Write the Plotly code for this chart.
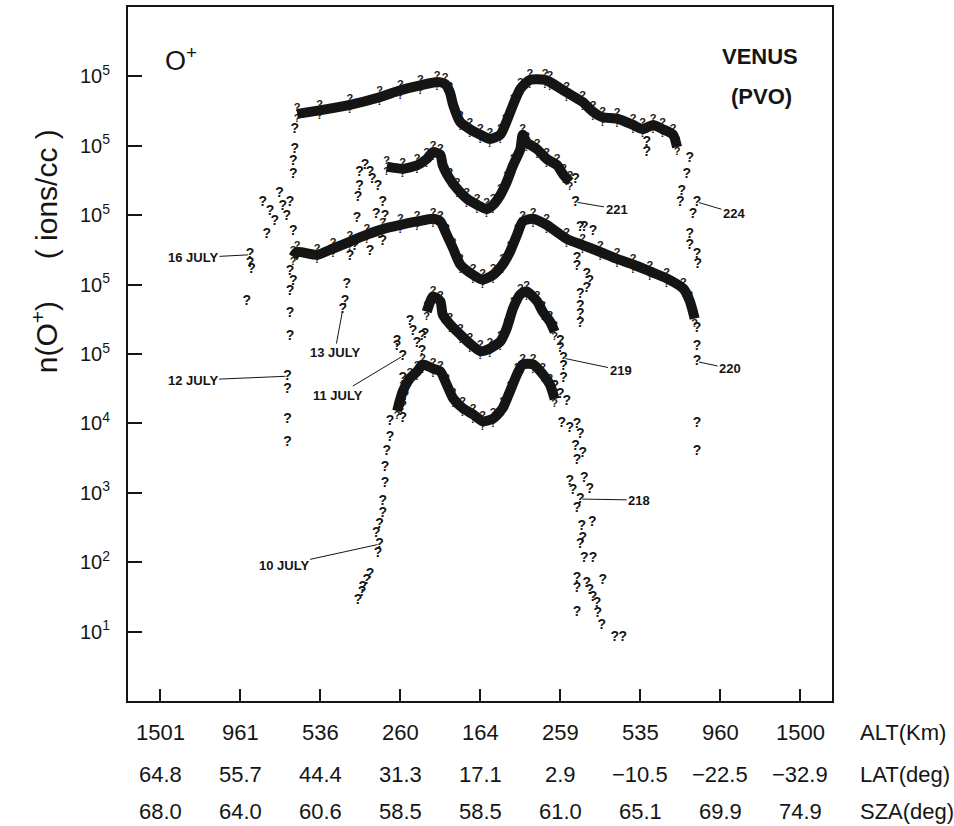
import plotly.graph_objects as go

# ---------------- axis label data ----------------
track_pos = [1, 2, 3, 4, 5, 6, 7, 8, 9]
alt_labels = ["1501", "961", "536", "260", "164", "259", "535", "960", "1500"]
lat_labels = ["64.8", "55.7", "44.4", "31.3", "17.1", "2.9", "\u221210.5", "\u221222.5", "\u221232.9"]
sza_labels = ["68.0", "64.0", "60.6", "58.5", "58.5", "61.0", "65.1", "69.9", "74.9"]
row_names = ["ALT(Km)", "LAT(deg)", "SZA(deg)"]

ytick_decades = [1, 2, 3, 4, 5, 6, 7, 8, 9]
ytick_text = ["10<sup>1</sup>", "10<sup>2</sup>", "10<sup>3</sup>", "10<sup>4</sup>",
              "10<sup>5</sup>", "10<sup>5</sup>", "10<sup>5</sup>", "10<sup>5</sup>", "10<sup>5</sup>"]

# ---------------- orbit 218 : 10 JULY (log10 n, no offset) ----------------
o218_band_x = [3.96, 4.03, 4.12, 4.21, 4.28, 4.41, 4.50, 4.58, 4.66, 4.78, 4.91, 5.03, 5.16, 5.28,
               5.37, 5.46, 5.53, 5.66, 5.78, 5.87, 5.93]
o218_band_logn = [4.18, 4.46, 4.65, 4.75, 4.85, 4.79, 4.75, 4.56, 4.36, 4.22, 4.13, 4.03, 4.07, 4.22,
                  4.46, 4.71, 4.85, 4.85, 4.71, 4.56, 4.35]
o218_pts_x = [3.47, 3.52, 3.53, 3.58, 3.62, 3.72, 3.74, 3.70, 3.74, 3.78, 3.78, 3.81, 3.81, 3.83, 3.87, 3.87,
              6.02, 6.12, 6.21, 6.25, 6.19, 6.28, 6.21, 6.12, 6.16, 6.30, 6.37, 6.25, 6.21, 6.27, 6.40,
              6.28, 6.25, 6.30, 6.41, 6.21, 6.21, 6.33, 6.37, 6.53, 6.41, 6.46, 6.21, 6.47, 6.52, 6.68, 6.78]
o218_pts_logn = [1.45, 1.56, 1.63, 1.73, 1.83, 2.12, 2.26, 2.41, 2.55, 2.70, 2.88, 3.13, 3.36, 3.60, 3.79, 4.03,
                 4.00, 3.92, 3.99, 3.84, 3.67, 3.56, 3.46, 3.17, 3.03, 3.21, 3.05, 2.91, 2.78, 2.52, 2.57,
                 2.34, 2.26, 2.05, 2.05, 1.76, 1.62, 1.70, 1.59, 1.73, 1.49, 1.40, 1.27, 1.26, 1.09, 0.91, 0.91]

# ---------------- orbit 219 : 11 JULY ----------------
o219_band_x = [4.33, 4.41, 4.50, 4.53, 4.62, 4.75, 4.87, 5.00, 5.12, 5.25, 5.33, 5.41, 5.50, 5.58,
               5.71, 5.78, 5.87, 5.93]
o219_band_logn = [4.61, 4.83, 4.76, 4.57, 4.43, 4.28, 4.15, 4.04, 4.08, 4.18, 4.37, 4.66, 4.86, 4.90,
                  4.76, 4.61, 4.47, 4.32]
o219_pts_x = [4.03, 4.03, 4.06, 4.03, 4.03, 3.96, 3.96, 4.12, 4.16, 4.21, 4.27, 4.27, 4.31,
              6.00, 6.00, 6.04, 6.04, 6.04, 5.93, 6.00, 6.08]
o219_pts_logn = [3.07, 3.25, 3.39, 3.65, 3.97, 4.11, 4.18, 4.47, 4.32, 4.15, 4.25, 4.04, 4.28,
                 4.18, 4.08, 3.94, 3.82, 3.65, 3.53, 3.42, 3.32]

# ---------------- orbit 220 : 12 JULY ----------------
o220_band_x = [2.66, 2.71, 2.96, 3.16, 3.37, 3.58, 3.78, 4.00, 4.21, 4.41, 4.50, 4.58, 4.66, 4.75,
               4.91, 5.03, 5.16, 5.28, 5.37, 5.46, 5.53, 5.66, 5.83, 6.08, 6.28, 6.50, 6.71, 6.91,
               7.12, 7.33, 7.54, 7.62, 7.68]
o220_band_logn = [4.40, 4.47, 4.43, 4.52, 4.62, 4.72, 4.80, 4.86, 4.91, 4.95, 4.91, 4.72, 4.52, 4.29,
                  4.14, 4.07, 4.14, 4.29, 4.47, 4.72, 4.91, 4.95, 4.86, 4.66, 4.57, 4.47, 4.37, 4.29,
                  4.19, 4.09, 3.94, 3.76, 3.51]
o220_pts_x = [2.62, 2.66, 2.62, 2.62, 2.62, 2.59, 2.59, 2.59, 2.59, 7.71, 7.71, 7.71, 7.71, 7.71]
o220_pts_logn = [4.19, 4.04, 3.90, 3.58, 3.25, 2.68, 2.49, 2.06, 1.72, 3.37, 3.11, 2.89, 2.00, 1.60]

# ---------------- orbit 221 : 13 JULY ----------------
o221_band_x = [3.83, 4.03, 4.21, 4.33, 4.41, 4.50, 4.53, 4.62, 4.71, 4.83, 4.96, 5.08, 5.16, 5.25,
               5.33, 5.41, 5.50, 5.53, 5.58, 5.71, 5.83, 5.96, 6.04, 6.12]
o221_band_logn = [4.70, 4.67, 4.72, 4.81, 4.91, 4.87, 4.72, 4.52, 4.38, 4.24, 4.15, 4.09, 4.15, 4.29,
                  4.48, 4.72, 4.95, 5.16, 5.05, 4.95, 4.81, 4.72, 4.58, 4.48]
o221_pts_x = [3.28, 3.31, 3.33, 3.37, 3.43, 3.46, 3.47, 3.49, 3.49, 3.56, 3.62, 3.65, 3.70, 3.72, 3.74,
              3.78, 3.81, 3.62, 3.78,
              6.19, 6.19, 6.25, 6.30, 6.41, 6.21, 6.21, 6.33, 6.37, 6.33, 6.25, 6.25, 6.25, 6.25]
o221_pts_logn = [2.64, 2.76, 3.00, 3.40, 3.55, 3.95, 4.26, 4.41, 4.62, 4.72, 4.62, 4.52, 4.01, 4.41, 3.72,
                 4.19, 3.98, 3.47, 3.62,
                 4.52, 4.19, 3.83, 3.83, 3.76, 3.37, 3.26, 3.14, 3.04, 2.94, 2.86, 2.68, 2.57, 2.44]

# ---------------- orbit 224 : 16 JULY ----------------
o224_band_x = [2.71, 2.99, 3.37, 3.74, 4.00, 4.25, 4.46, 4.56, 4.62, 4.66, 4.75, 4.87, 5.00, 5.12,
               5.25, 5.31, 5.41, 5.50, 5.62, 5.81, 5.87, 6.08, 6.28, 6.41, 6.53, 6.71, 6.91, 7.03,
               7.16, 7.28, 7.41, 7.46]
o224_band_logn = [4.46, 4.51, 4.59, 4.70, 4.80, 4.87, 4.92, 4.89, 4.77, 4.59, 4.34, 4.24, 4.16, 4.10,
                  4.16, 4.30, 4.59, 4.82, 4.95, 4.95, 4.92, 4.77, 4.63, 4.49, 4.41, 4.39, 4.30, 4.24,
                  4.30, 4.24, 4.16, 3.98]
o224_pts_x = [2.08, 2.12, 2.12, 2.14, 2.28, 2.33, 2.37, 2.43, 2.49, 2.53, 2.58, 2.62, 2.66, 2.66, 2.66,
              2.68, 2.68,
              7.08, 7.08, 7.62, 7.58, 7.52, 7.50, 7.71, 7.66, 7.62, 7.62, 7.71, 7.72]
o224_pts_logn = [1.76, 2.43, 2.30, 2.22, 3.19, 2.72, 3.05, 2.91, 3.31, 3.12, 2.98, 3.19, 2.76, 3.59, 3.77,
                 3.95, 4.24,
                 4.05, 3.91, 3.81, 3.58, 3.34, 3.19, 3.19, 3.01, 2.72, 2.57, 2.43, 2.29]

# ---------------- profiles (offset = decades the curve is shifted up) ----------------
profiles = [
    dict(orbit="218", date="10 JULY", offset=0, bx=o218_band_x, bl=o218_band_logn,
         px=o218_pts_x, pl=o218_pts_logn, d_i=6, d_ax=-96, d_ay=21, o_i=27, o_ax=59, o_ay=1),
    dict(orbit="219", date="11 JULY", offset=1, bx=o219_band_x, bl=o219_band_logn,
         px=o219_pts_x, pl=o219_pts_logn, d_i=4, d_ax=-65, d_ay=39, o_i=15, o_ax=57, o_ay=12),
    dict(orbit="220", date="12 JULY", offset=2, bx=o220_band_x, bl=o220_band_logn,
         px=o220_pts_x, pl=o220_pts_logn, d_i=5, d_ax=-95, d_ay=4, o_i=11, o_ax=33, o_ay=7),
    dict(orbit="221", date="13 JULY", offset=3, bx=o221_band_x, bl=o221_band_logn,
         px=o221_pts_x, pl=o221_pts_logn, d_i=0, d_ax=-8, d_ay=43, o_i=20, o_ax=41, o_ay=7),
    dict(orbit="224", date="16 JULY", offset=4, bx=o224_band_x, bl=o224_band_logn,
         px=o224_pts_x, pl=o224_pts_logn, d_i=1, d_ax=-57, d_ay=3, o_i=23, o_ax=37, o_ay=11),
]

INK = "#151515"
FONT = "Liberation Sans, Arial, Helvetica, sans-serif"
GLYPH = "?"
GLYPH_FONT = dict(size=14, color=INK, family=FONT, weight="bold")

fig = go.Figure()
for p in profiles:
    f = 10 ** p["offset"]
    band_y = [10 ** v * f for v in p["bl"]]
    fig.add_trace(go.Scatter(
        x=p["bx"], y=band_y, mode="lines",
        line=dict(color=INK, width=10, shape="spline", smoothing=0.6),
        hoverinfo="skip", showlegend=False))
    for pos in ["top center", "bottom center"]:
        fig.add_trace(go.Scatter(
            x=p["bx"], y=band_y, mode="text", text=[GLYPH] * len(band_y),
            textposition=pos, textfont=dict(size=11, color=INK, family=FONT, weight="bold"),
            hoverinfo="skip", showlegend=False))
    pts_y = [10 ** v * f for v in p["pl"]]
    fig.add_trace(go.Scatter(
        x=p["px"], y=pts_y, mode="text", text=[GLYPH] * len(pts_y),
        textposition="middle center", textfont=GLYPH_FONT,
        hoverinfo="skip", showlegend=False))
    for idx, label, ax, ay in [(p["d_i"], p["date"], p["d_ax"], p["d_ay"]),
                               (p["o_i"], p["orbit"], p["o_ax"], p["o_ay"])]:
        fig.add_annotation(
            x=p["px"][idx], y=p["pl"][idx] + p["offset"], xref="x", yref="y",
            text=label, showarrow=True, arrowhead=0, arrowwidth=1, arrowcolor=INK,
            standoff=2, ax=ax, ay=ay,
            font=dict(size=13, family=FONT, color=INK, weight="bold"))

# bottom label rows
row_y = [-0.046, -0.1063, -0.1595]
for labels, yy, name in zip([alt_labels, lat_labels, sza_labels], row_y, row_names):
    for xv, t in zip(track_pos, labels):
        fig.add_annotation(x=xv, y=yy, xref="x", yref="paper", text=t, showarrow=False,
                           xanchor="center", yanchor="middle",
                           font=dict(size=22, family=FONT, color=INK))
    fig.add_annotation(x=1.037, y=yy, xref="paper", yref="paper", text=name, showarrow=False,
                       xanchor="left", yanchor="middle",
                       font=dict(size=22, family=FONT, color=INK))

# in-plot titles
fig.add_annotation(x=0.05, y=0.925, xref="paper", yref="paper", text="O<sup>+</sup>",
                   showarrow=False, xanchor="left", yanchor="middle",
                   font=dict(size=27, family=FONT, color=INK))
fig.add_annotation(x=0.898, y=0.928, xref="paper", yref="paper", text="VENUS",
                   showarrow=False, xanchor="center", yanchor="middle",
                   font=dict(size=22, family=FONT, color=INK, weight="bold"))
fig.add_annotation(x=0.900, y=0.871, xref="paper", yref="paper", text="(PVO)",
                   showarrow=False, xanchor="center", yanchor="middle",
                   font=dict(size=22, family=FONT, color=INK, weight="bold"))
# y title
fig.add_annotation(x=-0.118, y=0.648, xref="paper", yref="paper",
                   text="n(O<sup>+</sup>)     ( ions/cc )", textangle=-90,
                   showarrow=False, xanchor="center", yanchor="middle",
                   font=dict(size=30, family=FONT, color=INK))

fig.update_layout(
    width=954, height=826,
    margin=dict(l=128, r=122, t=5, b=125),
    paper_bgcolor="white", plot_bgcolor="white",
    showlegend=False,
    xaxis=dict(range=[0.595, 9.397], tickvals=track_pos, ticks="inside", ticklen=12,
               tickwidth=1.5, tickcolor=INK, showticklabels=False, showline=True,
               linecolor=INK, linewidth=2, mirror=True, showgrid=False, zeroline=False),
    yaxis=dict(type="log", range=[0, 10], tickvals=[10 ** d for d in ytick_decades],
               ticktext=ytick_text, ticks="inside", ticklen=14, tickwidth=1.5, tickcolor=INK,
               showline=True, linecolor=INK, linewidth=2, mirror=True, showgrid=False,
               zeroline=False, ticklabelstandoff=12,
               tickfont=dict(size=20, family=FONT, color=INK)),
)

fig.write_html("out.html", config={"displayModeBar": False},
               post_script="document.body.style.margin='0px';")
